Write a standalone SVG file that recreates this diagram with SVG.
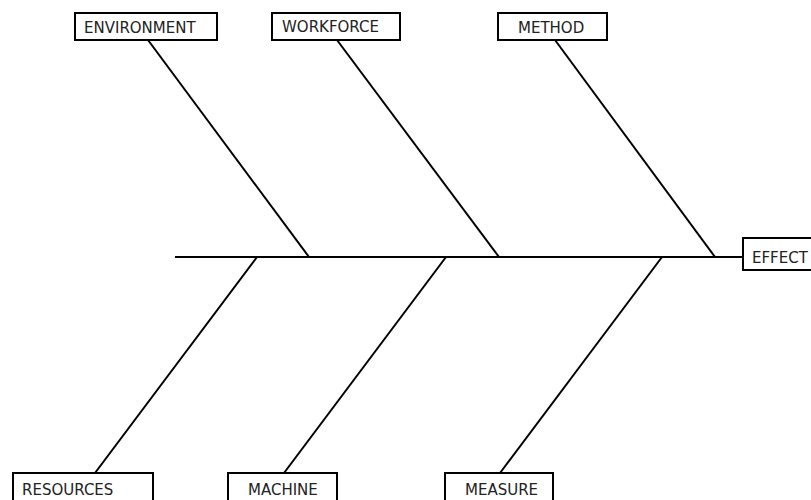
<svg xmlns="http://www.w3.org/2000/svg" width="811" height="500" viewBox="0 0 811 500">
  <style>
    .box { fill: #ffffff; stroke: #000000; stroke-width: 2; }
    .label { font-family: "DejaVu Sans", sans-serif; font-size: 15px; fill: #222222; }
    .bone { stroke: #000000; stroke-width: 2; fill: none; }
  </style>
  <rect x="0" y="0" width="811" height="500" fill="#ffffff"/>

  <!-- spine and cause bones -->
  <g id="connectors">
    <line class="bone" x1="175" y1="257" x2="743" y2="257"/>
    <line class="bone" x1="148" y1="40" x2="309" y2="257"/>
    <line class="bone" x1="337" y1="40" x2="499" y2="257"/>
    <line class="bone" x1="555" y1="40" x2="715" y2="257"/>
    <line class="bone" x1="257" y1="257" x2="95" y2="473"/>
    <line class="bone" x1="446" y1="257" x2="284" y2="473"/>
    <line class="bone" x1="662" y1="257" x2="500" y2="473"/>
  </g>

  <g id="environment">
    <rect class="box" x="75" y="13" width="142" height="27"/>
    <text class="label" x="84" y="33">ENVIRONMENT</text>
  </g>
  <g id="workforce">
    <rect class="box" x="272" y="13" width="128" height="27"/>
    <text class="label" x="282" y="32">WORKFORCE</text>
  </g>
  <g id="method">
    <rect class="box" x="498" y="13" width="109" height="27"/>
    <text class="label" x="518" y="33">METHOD</text>
  </g>
  <g id="effect">
    <rect class="box" x="743" y="238" width="80" height="32"/>
    <text class="label" x="752" y="263">EFFECT</text>
  </g>
  <g id="resources">
    <rect class="box" x="13" y="473" width="140" height="40"/>
    <text class="label" x="22" y="495">RESOURCES</text>
  </g>
  <g id="machine">
    <rect class="box" x="228" y="473" width="109" height="40"/>
    <text class="label" x="248" y="495">MACHINE</text>
  </g>
  <g id="measure">
    <rect class="box" x="445" y="473" width="108" height="40"/>
    <text class="label" x="465" y="495">MEASURE</text>
  </g>
</svg>
